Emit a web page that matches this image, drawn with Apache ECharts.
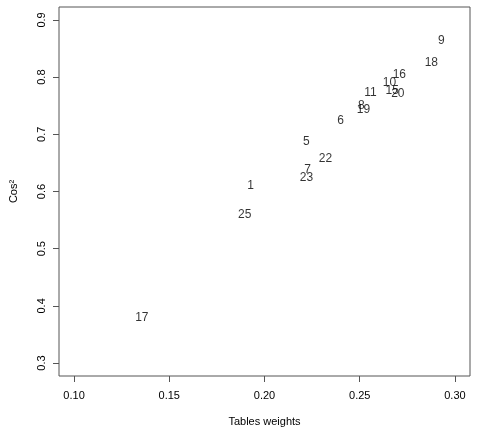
<!DOCTYPE html><html><head><meta charset="utf-8"><script src="https://cdn.jsdelivr.net/npm/echarts@6/dist/echarts.min.js"></script></head><body style="margin:0"><div id="c" style="width:478px;height:438px"></div><script>
const labels=['9','18','16','10','15','20','11','8','19','6','5','22','7','23','1','25','17'];
const xs=[0.2928,0.2876,0.2708,0.2656,0.2671,0.2700,0.2556,0.2509,0.2520,0.2399,0.2220,0.2320,0.2226,0.2220,0.1927,0.1896,0.1356];
const ys=[0.863,0.825,0.804,0.790,0.776,0.771,0.772,0.750,0.743,0.723,0.687,0.657,0.639,0.625,0.610,0.559,0.380];
const xTicks=[0.10,0.15,0.20,0.25,0.30], yTicks=[0.3,0.4,0.5,0.6,0.7,0.8,0.9];
const f='Liberation Sans';
const ax={axisLine:{show:false},axisTick:{show:true,inside:false,length:6,lineStyle:{color:'#555'}},splitLine:{show:false},axisLabel:{color:'#000',fontSize:11,fontFamily:f}};
const ch=echarts.init(document.getElementById('c'));
ch.setOption({animation:false,
grid:{left:58,right:8,top:7,bottom:62,show:true,borderColor:'#555',borderWidth:1},
xAxis:Object.assign({type:'value',min:0.0921,max:0.3079,name:'Tables weights',nameLocation:'middle',nameGap:40,nameTextStyle:{color:'#000',fontSize:11,fontFamily:f}},ax,
 {axisTick:Object.assign({},ax.axisTick,{customValues:xTicks}),axisLabel:Object.assign({},ax.axisLabel,{customValues:xTicks,margin:14,formatter:v=>v.toFixed(2)})}),
yAxis:Object.assign({type:'value',min:0.2773,max:0.9227,name:'Cos²',nameLocation:'middle',nameGap:40,nameRotate:90,nameTextStyle:{color:'#000',fontSize:11,fontFamily:f}},ax,
 {axisTick:Object.assign({},ax.axisTick,{customValues:yTicks}),axisLabel:Object.assign({},ax.axisLabel,{customValues:yTicks,rotate:90,margin:12,formatter:v=>v.toFixed(1)})}),
series:[{type:'scatter',symbolSize:1,itemStyle:{color:'rgba(0,0,0,0)'},data:xs.map((x,i)=>({value:[x,ys[i]],name:labels[i]})),
 labelLayout:{hideOverlap:false},
 label:{show:true,position:'inside',formatter:p=>p.name,color:'#000',fontSize:12,fontFamily:f}}]});
</script></body></html>
